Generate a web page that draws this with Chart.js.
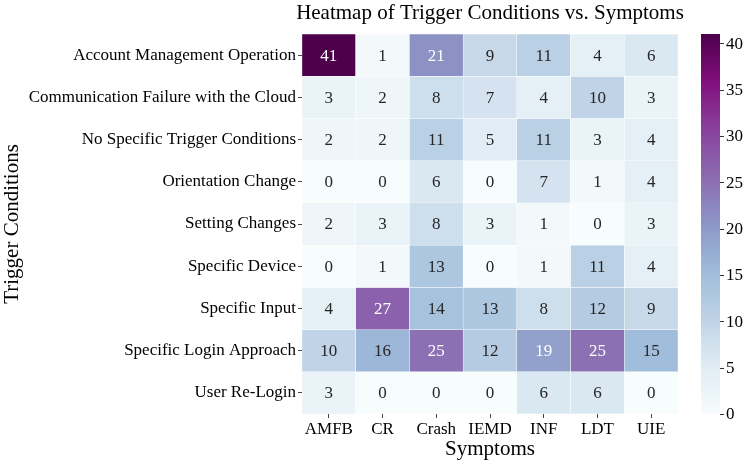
<!DOCTYPE html>
<html>
<head>
<meta charset="utf-8">
<script src="https://cdn.jsdelivr.net/npm/chart.js@4.4.0/dist/chart.umd.min.js"></script>
<style>
  html, body { margin: 0; padding: 0; background: #ffffff; }
  #wrap { width: 748px; height: 463px; }
</style>
</head>
<body>
<div id="wrap"><canvas id="c" width="748" height="463"></canvas></div>
<script>
// ---- data ----
const symptoms = ['AMFB', 'CR', 'Crash', 'IEMD', 'INF', 'LDT', 'UIE'];
const conditions = [
  'Account Management Operation',
  'Communication Failure with the Cloud',
  'No Specific Trigger Conditions',
  'Orientation Change',
  'Setting Changes',
  'Specific Device',
  'Specific Input',
  'Specific Login Approach',
  'User Re-Login'
];
const accountMgmt   = [41, 1, 21, 9, 11, 4, 6];
const commFailure   = [3, 2, 8, 7, 4, 10, 3];
const noSpecific    = [2, 2, 11, 5, 11, 3, 4];
const orientation   = [0, 0, 6, 0, 7, 1, 4];
const settingChange = [2, 3, 8, 3, 1, 0, 3];
const specDevice    = [0, 1, 13, 0, 1, 11, 4];
const specInput     = [4, 27, 14, 13, 8, 12, 9];
const specLogin     = [10, 16, 25, 12, 19, 25, 15];
const userRelogin   = [3, 0, 0, 0, 6, 6, 0];
const counts = [accountMgmt, commFailure, noSpecific, orientation, settingChange,
                specDevice, specInput, specLogin, userRelogin];
const colorbarTicks = [0, 5, 10, 15, 20, 25, 30, 35, 40];
const vmin = 0, vmax = 41;

// ---- BuPu colormap ----
const bupu = ['#f7fcfd', '#e0ecf4', '#bfd3e6', '#9ebcda', '#8c96c6', '#8c6bb1', '#88419d', '#810f7c', '#4d004b']
  .map(h => [parseInt(h.slice(1, 3), 16), parseInt(h.slice(3, 5), 16), parseInt(h.slice(5, 7), 16)]);
function cmapRGB(v) {
  let t = (v - vmin) / (vmax - vmin);
  t = Math.max(0, Math.min(1, t));
  const p = t * (bupu.length - 1);
  const i = Math.min(Math.floor(p), bupu.length - 2);
  const f = p - i;
  return [0, 1, 2].map(k => bupu[i][k] + (bupu[i + 1][k] - bupu[i][k]) * f);
}
function cmap(v) {
  const c = cmapRGB(v);
  return 'rgb(' + c.map(x => Math.round(x)).join(',') + ')';
}
function luminance(rgb) {
  const l = rgb.map(x => {
    const c = x / 255;
    return c <= 0.03928 ? c / 12.92 : Math.pow((c + 0.055) / 1.055, 2.4);
  });
  return 0.2126 * l[0] + 0.7152 * l[1] + 0.0722 * l[2];
}

const serif = "'Liberation Serif', 'DejaVu Serif', serif";

const datasets = counts.map((row, r) => ({
  label: conditions[r],
  data: row.map(() => [r, r + 1]),
  values: row,
  backgroundColor: row.map(v => cmap(v)),
  borderColor: '#ffffff',
  borderWidth: 0.5,
  borderSkipped: false,
  barPercentage: 1,
  categoryPercentage: 1,
  grouped: false,
  yAxisID: 'y'
}));

const extras = {
  id: 'extras',
  afterDatasetsDraw(chart) {
    const ctx = chart.ctx;
    ctx.save();
    ctx.font = '17px ' + serif;
    ctx.textAlign = 'center';
    ctx.textBaseline = 'middle';
    chart.data.datasets.forEach((ds, di) => {
      const meta = chart.getDatasetMeta(di);
      meta.data.forEach((el, i) => {
        const v = ds.values[i];
        ctx.fillStyle = luminance(cmapRGB(v)) < 0.408 ? '#ffffff' : '#262626';
        ctx.fillText(String(v), el.x, (el.y + el.base) / 2 + 1);
      });
    });
    ctx.restore();
  },
  afterDraw(chart) {
    const ctx = chart.ctx;
    const area = chart.chartArea;
    const cb = chart.scales.cb;
    ctx.save();
    // title
    ctx.font = '21px ' + serif;
    ctx.fillStyle = '#000';
    ctx.textAlign = 'center';
    ctx.textBaseline = 'middle';
    ctx.fillText('Heatmap of Trigger Conditions vs. Symptoms', (area.left + area.right) / 2, 13);
    // colorbar
    const x0 = area.right + 23, x1 = area.right + 42;
    const yTop = cb.getPixelForValue(vmax), yBot = cb.getPixelForValue(vmin);
    const g = ctx.createLinearGradient(0, yBot, 0, yTop);
    for (let k = 0; k <= 40; k++) {
      g.addColorStop(k / 40, cmap(vmin + (vmax - vmin) * k / 40));
    }
    ctx.fillStyle = g;
    ctx.fillRect(x0, yTop, x1 - x0, yBot - yTop);
    ctx.strokeStyle = '#333';
    ctx.lineWidth = 1;
    ctx.font = '17px ' + serif;
    ctx.fillStyle = '#000';
    ctx.textAlign = 'left';
    ctx.textBaseline = 'middle';
    cb.ticks.forEach(t => {
      const yy = cb.getPixelForValue(t.value);
      const y = Math.round(yy) + 0.5;
      ctx.beginPath();
      ctx.moveTo(x1, y);
      ctx.lineTo(x1 + 4, y);
      ctx.stroke();
      ctx.fillText(String(t.value), x1 + 6, yy + 1);
    });
    ctx.restore();
  }
};

new Chart(document.getElementById('c'), {
  type: 'bar',
  data: { labels: symptoms, datasets },
  options: {
    responsive: false,
    animation: false,
    layout: { padding: { top: 34, left: 0, right: 0, bottom: 0 } },
    plugins: { legend: { display: false }, tooltip: { enabled: false }, title: { display: false } },
    scales: {
      x: {
        type: 'category',
        position: 'bottom',
        offset: true,
        border: { display: false },
        grid: { display: true, drawOnChartArea: false, drawTicks: true, tickLength: 4, offset: false, color: '#444' },
        ticks: { font: { family: serif, size: 17 }, color: '#000', padding: 1, maxRotation: 0, autoSkip: false },
        title: { display: true, text: 'Symptoms', font: { family: serif, size: 21 }, color: '#000', padding: { top: 0, bottom: 1 } },
        afterFit(s) { s.height = 49; }
      },
      y: {
        type: 'linear',
        display: false,
        min: 0,
        max: conditions.length,
        reverse: true
      },
      yCat: {
        type: 'category',
        labels: conditions,
        position: 'left',
        offset: true,
        border: { display: false },
        grid: { display: true, drawOnChartArea: false, drawTicks: true, tickLength: 4, offset: false, color: '#444' },
        ticks: { font: { family: serif, size: 17 }, color: '#000', padding: 2, autoSkip: false },
        title: { display: true, text: 'Trigger Conditions', font: { family: serif, size: 21 }, color: '#000', padding: { top: 0, bottom: 0 } },
        afterFit(s) { s.width = 302; }
      },
      cb: {
        type: 'linear',
        position: 'right',
        min: vmin,
        max: vmax,
        border: { display: false },
        grid: { display: false, drawOnChartArea: false, drawTicks: false },
        afterBuildTicks(s) { s.ticks = colorbarTicks.map(v => ({ value: v })); },
        ticks: { display: false },
        afterFit(s) { s.width = 70; s.paddingTop = 0; s.paddingBottom = 0; }
      }
    }
  },
  plugins: [extras]
});
</script>
</body>
</html>
